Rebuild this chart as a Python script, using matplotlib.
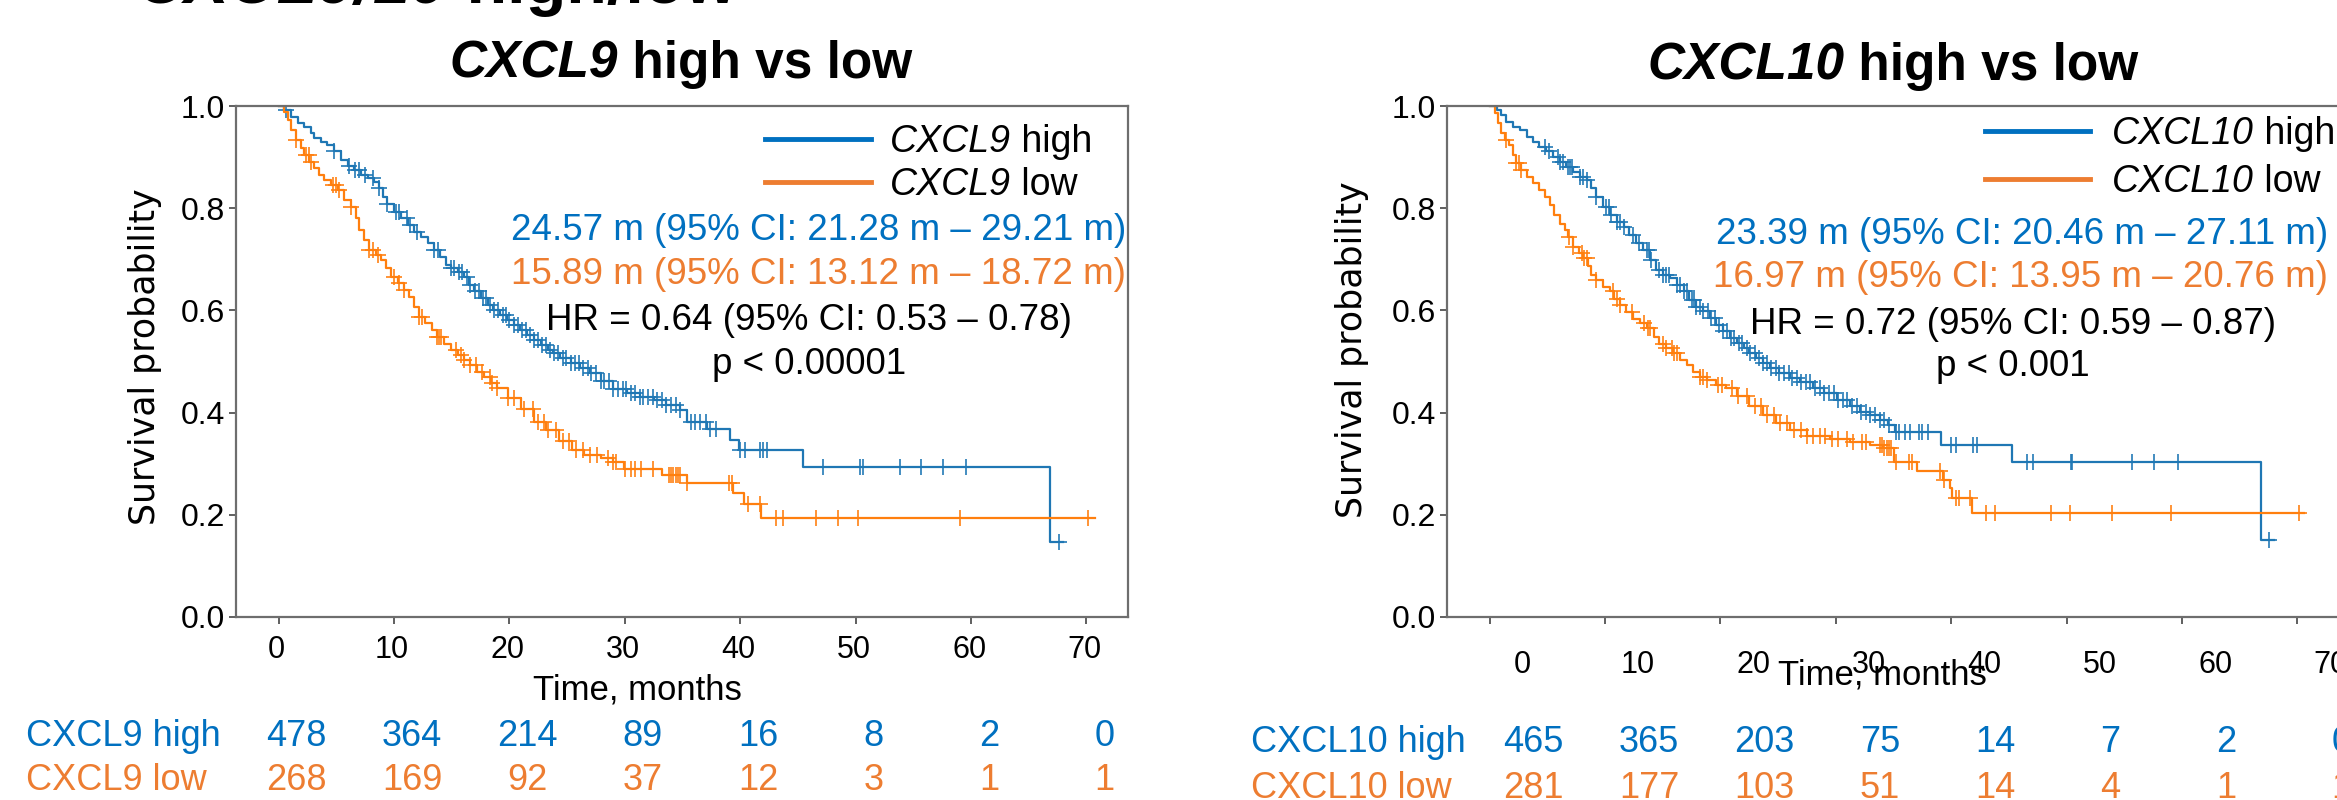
import matplotlib
matplotlib.use("Agg")
import matplotlib.pyplot as plt
import numpy as np
from matplotlib import transforms
from matplotlib.lines import Line2D

plt.rcParams["font.family"] = ["Liberation Sans", "DejaVu Sans"]

# ---------------- datos ----------------
TICKS = [0, 10, 20, 30, 40, 50, 60, 70]

# CXCL9 high (KM, escalones)
hi9_t = [0, 0.5, 1.07, 1.64, 2.2, 2.8, 3.1, 3.66, 4.2, 4.8, 5.4, 6.0, 6.5, 7.1, 7.7,
         8.3, 8.7, 9.0, 9.4, 10.0, 10.6, 11.2, 11.7, 12.3, 12.9, 13.5, 14.0, 14.5,
         14.9, 15.5, 16.1, 16.5, 16.9, 17.5, 18.1, 18.6, 19.2, 19.8, 20.4, 20.9,
         21.5, 22.1, 22.7, 23.3, 23.8, 24.4, 25.3, 26.1, 27.0, 27.9, 29.0, 30.2,
         31.3, 32.5, 33.6, 34.8, 35.4, 37.1, 39.1, 39.9, 45.4, 66.8, 68.0]
hi9_s = [1.0, 0.992, 0.979, 0.966, 0.958, 0.948, 0.937, 0.930, 0.924, 0.911, 0.894,
         0.883, 0.875, 0.865, 0.860, 0.852, 0.839, 0.822, 0.809, 0.793, 0.780,
         0.767, 0.754, 0.744, 0.731, 0.718, 0.705, 0.689, 0.682, 0.676, 0.666,
         0.650, 0.637, 0.624, 0.611, 0.601, 0.591, 0.581, 0.572, 0.562, 0.552,
         0.542, 0.532, 0.522, 0.516, 0.506, 0.497, 0.487, 0.477, 0.462, 0.447,
         0.438, 0.431, 0.425, 0.415, 0.405, 0.382, 0.367, 0.346, 0.327, 0.294,
         0.147, 0.147]
hi9_cens = [0.6, 4.8, 6.1, 6.6, 7.0, 7.5, 8.2, 8.7, 9.4, 10.2, 10.4, 11.1, 11.4, 12.0,
            13.5, 13.8, 14.9, 15.2, 15.6, 15.9, 16.3, 16.6, 17.0, 17.4, 17.7, 18.0,
            18.3, 18.7, 19.0, 19.4, 19.7, 20.0, 20.4, 20.7, 21.1, 21.4, 21.8, 22.1,
            22.5, 22.8, 23.2, 23.5, 23.9, 24.2, 24.6, 24.9, 25.3, 25.7, 26.0, 26.4,
            26.8, 27.1, 27.5, 27.9, 28.2, 28.6, 29.0, 29.4, 29.8, 30.1, 30.5, 30.9,
            31.3, 31.6, 32.0, 32.4, 32.8, 33.2, 33.6, 34.0, 34.4, 34.8, 35.7, 36.1,
            36.5, 37.0, 37.4, 37.9, 40.0, 40.4, 41.7, 42.0, 42.3, 47.2, 50.4, 50.6,
            53.8, 55.7, 57.6, 59.6, 67.6]

# CXCL9 low
lo9_t = [0, 0.5, 0.8, 1.07, 1.5, 1.9, 2.2, 2.65, 3.1, 3.5, 3.9, 4.5, 5.1, 5.7, 6.25,
         6.7, 7.0, 7.4, 7.8, 8.4, 8.85, 9.3, 9.7, 10.3, 10.9, 11.3, 11.7, 12.2, 12.7,
         13.3, 13.7, 14.3, 14.9, 15.5, 16.1, 16.6, 17.2, 17.8, 18.4, 18.9, 19.9,
         21.0, 22.1, 23.2, 24.3, 25.4, 26.5, 27.9, 29.0, 29.9, 33.2, 35.4, 39.4,
         40.3, 41.8, 70.7]
lo9_s = [1.0, 0.989, 0.973, 0.953, 0.934, 0.917, 0.904, 0.891, 0.878, 0.865, 0.855,
         0.845, 0.836, 0.816, 0.803, 0.780, 0.757, 0.738, 0.718, 0.708, 0.699,
         0.682, 0.666, 0.653, 0.640, 0.627, 0.607, 0.588, 0.575, 0.561, 0.548,
         0.535, 0.522, 0.513, 0.503, 0.493, 0.480, 0.470, 0.457, 0.448, 0.428,
         0.407, 0.381, 0.365, 0.345, 0.327, 0.318, 0.311, 0.304, 0.290, 0.278,
         0.262, 0.242, 0.222, 0.194, 0.194]
lo9_cens = [1.5, 2.4, 2.6, 2.8, 4.7, 5.0, 5.2, 6.25, 7.8, 8.2, 8.6, 10.0, 10.4, 10.9,
            12.2, 12.4, 13.7, 13.9, 14.1, 15.4, 15.8, 16.1, 16.6, 17.1, 17.6, 18.3,
            18.5, 18.9, 19.9, 20.4, 21.3, 22.0, 22.5, 23.0, 23.3, 24.0, 24.6, 25.2,
            25.8, 26.4, 27.0, 27.6, 28.5, 29.0, 29.2, 30.0, 30.5, 30.9, 31.4, 32.4,
            33.8, 34.0, 34.2, 34.4, 34.6, 34.8, 35.4, 39.0, 39.3, 40.7, 41.7, 43.1,
            43.7, 46.6, 48.5, 50.2, 59.0, 70.1]

# CXCL10 high
hi10_t = [0, 0.6, 1.0, 1.45, 2.0, 2.6, 3.2, 3.75, 4.3, 4.9, 5.5, 6.1, 6.65, 7.2, 7.8,
          8.4, 8.8, 9.25, 9.8, 10.4, 11.0, 11.6, 12.1, 12.7, 13.3, 13.9, 14.45, 15.0,
          15.6, 16.2, 16.8, 17.3, 17.9, 18.5, 19.1, 19.65, 20.2, 20.8, 21.4, 22.0,
          22.5, 23.1, 23.7, 24.3, 25.1, 26.0, 26.9, 28.0, 29.0, 30.1, 31.2, 32.1,
          33.0, 33.8, 34.5, 35.1, 39.1, 45.3, 66.8, 68.0]
hi10_s = [1.0, 0.992, 0.982, 0.969, 0.959, 0.953, 0.940, 0.930, 0.920, 0.911, 0.901,
          0.891, 0.881, 0.871, 0.861, 0.855, 0.839, 0.822, 0.803, 0.786, 0.773,
          0.763, 0.747, 0.731, 0.718, 0.699, 0.679, 0.669, 0.663, 0.650, 0.637,
          0.620, 0.607, 0.598, 0.585, 0.572, 0.559, 0.546, 0.536, 0.526, 0.516,
          0.506, 0.497, 0.487, 0.477, 0.467, 0.459, 0.448, 0.438, 0.425, 0.412,
          0.402, 0.395, 0.386, 0.376, 0.363, 0.337, 0.303, 0.151, 0.151]
hi10_cens = [4.8, 5.1, 5.9, 6.1, 6.35, 6.8, 6.95, 7.1, 7.8, 8.1, 8.4, 9.25, 10.1, 10.3,
             10.5, 11.0, 11.3, 11.6, 12.4, 12.9, 13.6, 13.8, 14.0, 14.7, 15.0, 15.3,
             15.5, 16.2, 16.5, 16.8, 17.1, 17.5, 17.7, 17.9, 18.2, 18.5, 18.9, 19.2,
             19.5, 19.9, 20.2, 20.6, 20.9, 21.2, 21.6, 21.9, 22.3, 22.6, 23.0, 23.3,
             23.7, 24.0, 24.4, 24.8, 25.1, 25.5, 25.9, 26.2, 26.6, 27.0, 27.4, 27.8,
             28.2, 28.6, 29.0, 29.4, 29.8, 30.2, 30.6, 31.0, 31.4, 31.8, 32.2, 32.6,
             33.0, 33.4, 33.8, 34.2, 34.6, 35.2, 35.5, 36.0, 36.4, 37.2, 37.5, 38.0,
             40.0, 40.4, 41.9, 42.2, 46.6, 47.1, 50.4, 50.5, 55.7, 57.6, 59.65, 67.5]

# CXCL10 low
lo10_t = [0, 0.45, 0.7, 1.0, 1.3, 1.7, 2.0, 2.3, 2.75, 3.2, 3.75, 4.3, 4.8, 5.2, 5.6,
          6.1, 6.5, 6.8, 7.2, 7.7, 8.1, 8.5, 8.8, 9.25, 9.8, 10.4, 10.8, 11.3, 11.85,
          12.4, 13.0, 13.6, 14.2, 14.7, 15.3, 15.9, 16.5, 17.1, 17.6, 18.2, 18.8,
          19.65, 20.5, 21.4, 22.5, 23.7, 24.8, 26.0, 27.5, 29.5, 31.2, 33.0, 34.1,
          35.0, 37.0, 39.3, 39.9, 40.1, 41.8, 70.6]
lo10_s = [1.0, 0.986, 0.966, 0.947, 0.934, 0.924, 0.904, 0.888, 0.875, 0.862, 0.849,
          0.835, 0.822, 0.806, 0.787, 0.770, 0.757, 0.744, 0.725, 0.712, 0.702,
          0.686, 0.669, 0.659, 0.646, 0.637, 0.623, 0.611, 0.597, 0.584, 0.575,
          0.565, 0.548, 0.535, 0.526, 0.516, 0.503, 0.493, 0.480, 0.470, 0.464,
          0.454, 0.448, 0.432, 0.413, 0.395, 0.380, 0.365, 0.355, 0.349, 0.343,
          0.337, 0.330, 0.304, 0.286, 0.268, 0.252, 0.232, 0.203, 0.203]
lo10_cens = [1.45, 2.3, 2.5, 2.75, 6.9, 7.2, 8.0, 8.2, 8.4, 9.25, 10.7, 11.0, 11.3, 12.3,
             13.4, 13.7, 13.9, 15.0, 15.3, 15.8, 16.0, 16.2, 18.2, 18.5, 18.8, 19.8,
             20.1, 21.0, 21.5, 22.3, 23.0, 23.5, 24.0, 24.6, 25.2, 25.8, 26.4, 27.0,
             27.5, 28.0, 28.6, 29.1, 29.7, 30.2, 31.0, 31.5, 32.3, 32.6, 33.8, 34.0,
             34.2, 34.4, 34.6, 34.8, 35.2, 36.3, 36.6, 39.0, 39.4, 40.4, 40.7, 41.6,
             43.0, 43.8, 48.6, 50.3, 53.9, 59.0, 70.1]

# numeros en riesgo
risk9_hi = [478, 364, 214, 89, 16, 8, 2, 0]
risk9_lo = [268, 169, 92, 37, 12, 3, 1, 1]
risk10_hi = [465, 365, 203, 75, 14, 7, 2, 0]
risk10_lo = [281, 177, 103, 51, 14, 4, 1, 1]

# ---------------- estilo ----------------
C_HI, C_LO = "#1f77b4", "#ff7f0e"          # curvas
T_HI, T_LO = "#0070C0", "#ED7D31"          # textos
W, H = 2337, 800

fig = plt.figure(figsize=(W / 100, H / 100), dpi=100, facecolor="white")
rend = fig.canvas.get_renderer()


def fx(x):
    return x / W


def fy(y):
    return 1 - y / H


def rico(x, y, partes, fs, color="black", ha="left", peso="normal"):
    """Texto con trozos en cursiva / normal, alineado por la linea base."""
    arts = [fig.text(0, fy(y), s, fontsize=fs, fontstyle=st, fontweight=peso,
                     color=color, ha="left", va="baseline") for s, st in partes]
    anchos = [a.get_window_extent(rend).width for a in arts]
    x0 = x - sum(anchos) / 2 if ha == "center" else x
    for a, w in zip(arts, anchos):
        a.set_x(fx(x0))
        x0 += w


def curva(ax, t, s, cens, color):
    t = np.asarray(t); s = np.asarray(s)
    ax.step(t, s, where="post", color=color, lw=1.6)
    c = np.asarray(cens)
    sc = s[np.searchsorted(t, c, side="right") - 1]
    ax.plot(c, sc, "+", color=color, ms=11, mew=1.3, alpha=0.9)


def panel(ax, gen, hi, lo, risk_hi, risk_lo, txt, geo):
    curva(ax, *hi, C_HI)
    curva(ax, *lo, C_LO)
    ax.set_xlim(-3.7, 73.6)
    ax.set_ylim(0, 1)
    ax.set_xticks(TICKS)
    ax.set_yticks([0, 0.2, 0.4, 0.6, 0.8, 1.0])
    ax.set_yticklabels([f"{v:.1f}" for v in [0, 0.2, 0.4, 0.6, 0.8, 1.0]])
    ax.tick_params(axis="x", labelbottom=False, length=5, width=1.2, color="#444444")
    ax.tick_params(axis="y", labelsize=23, length=5, width=1.2, pad=3, color="#444444")
    for sp in ax.spines.values():
        sp.set_color("#6e6e6e"); sp.set_linewidth(1.6)

    # etiquetas del eje x y tabla de riesgo (desplazadas como en la diapositiva)
    def tr(dx):
        base = transforms.blended_transform_factory(ax.transData, fig.transFigure)
        return base + transforms.ScaledTranslation(dx / 100, 0, fig.dpi_scale_trans)

    for k, tk in enumerate(TICKS):
        ax.text(tk, fy(geo["tick_y"]), str(tk), transform=tr(geo["tick_dx"]),
                ha="center", va="center", fontsize=22, clip_on=False)
        ax.text(tk, fy(geo["row1"]), str(risk_hi[k]), transform=tr(geo["risk_dx"]),
                ha="center", va="center", fontsize=26, color=T_HI, clip_on=False)
        ax.text(tk, fy(geo["row2"]), str(risk_lo[k]), transform=tr(geo["risk_dx"]),
                ha="center", va="center", fontsize=26, color=T_LO, clip_on=False)
    fig.text(fx(geo["lab_x"]), fy(geo["row1"]), f"{gen} high", fontsize=26,
             color=T_HI, ha="left", va="center")
    fig.text(fx(geo["lab_x"]), fy(geo["row2"]), f"{gen} low", fontsize=26,
             color=T_LO, ha="left", va="center")

    fig.text(fx(geo["xl"][0]), fy(geo["xl"][1]), "Time, months", fontsize=25,
             ha="center", va="center")
    fig.text(fx(geo["yl"][0]), fy(geo["yl"][1]), "Survival probability",
             fontsize=25, family="DejaVu Sans", rotation=90, ha="center", va="center")
    rico(geo["title"][0], geo["title"][1], [(gen, "italic"), (" high vs low", "normal")],
         37, ha="center", peso="bold")

    # leyenda (lineas gruesas + nombre del gen en cursiva)
    lx0, lx1, tx = geo["leg_x"]
    for yy, col, cual in zip(geo["leg_y"], (T_HI, T_LO), (" high", " low")):
        fig.add_artist(Line2D([fx(lx0), fx(lx1)], [fy(yy), fy(yy)],
                              transform=fig.transFigure, color=col, lw=3.5))
        rico(tx, yy + 13, [(gen, "italic"), (cual, "normal")], 27)

    # medianas, HR y p
    xr, xc = geo["txt_r"], geo["txt_c"]
    y1, y2, y3, y4 = geo["txt_y"]
    fig.text(fx(xr), fy(y1), txt[0], color=T_HI, fontsize=26.5, ha="right", va="center")
    fig.text(fx(xr), fy(y2), txt[1], color=T_LO, fontsize=26.5, ha="right", va="center")
    fig.text(fx(xc), fy(y3), txt[2], fontsize=26.5, ha="center", va="center")
    fig.text(fx(xc), fy(y4), txt[3], fontsize=26.5, ha="center", va="center")


axL = fig.add_axes([fx(236), 1 - 617 / H, 892 / W, 511 / H])
axR = fig.add_axes([fx(1447), 1 - 617 / H, 892 / W, 511 / H])

panel(axL, "CXCL9", (hi9_t, hi9_s, hi9_cens), (lo9_t, lo9_s, lo9_cens),
      risk9_hi, risk9_lo,
      ["24.57 m (95% CI: 21.28 m \u2013 29.21 m)",
       "15.89 m (95% CI: 13.12 m \u2013 18.72 m)",
       "HR = 0.64 (95% CI: 0.53 \u2013 0.78)", "p < 0.00001"],
      dict(tick_y=650, tick_dx=-2, risk_dx=18, row1=736, row2=781, lab_x=26,
           xl=(637, 690), yl=(145, 357), title=(681, 78),
           leg_x=(765, 871, 890), leg_y=(139, 182),
           txt_r=1126, txt_c=809, txt_y=(230, 275, 321, 364)))

panel(axR, "CXCL10", (hi10_t, hi10_s, hi10_cens), (lo10_t, lo10_s, lo10_cens),
      risk10_hi, risk10_lo,
      ["23.39 m (95% CI: 20.46 m \u2013 27.11 m)",
       "16.97 m (95% CI: 13.95 m \u2013 20.76 m)",
       "HR = 0.72 (95% CI: 0.59 \u2013 0.87)", "p < 0.001"],
      dict(tick_y=665, tick_dx=33, risk_dx=44, row1=742, row2=789, lab_x=1251,
           xl=(1882, 675), yl=(1352, 350), title=(1893, 80),
           leg_x=(1985, 2090, 2112), leg_y=(131, 179),
           txt_r=2328, txt_c=2013, txt_y=(234, 278, 325, 367)))

# titulo general (cortado arriba en la diapositiva)
rico(137, 3, [("CXCL9/10", "italic"), (" high/low", "normal")], 48, peso="bold")

fig.savefig("out.png", dpi=100)
